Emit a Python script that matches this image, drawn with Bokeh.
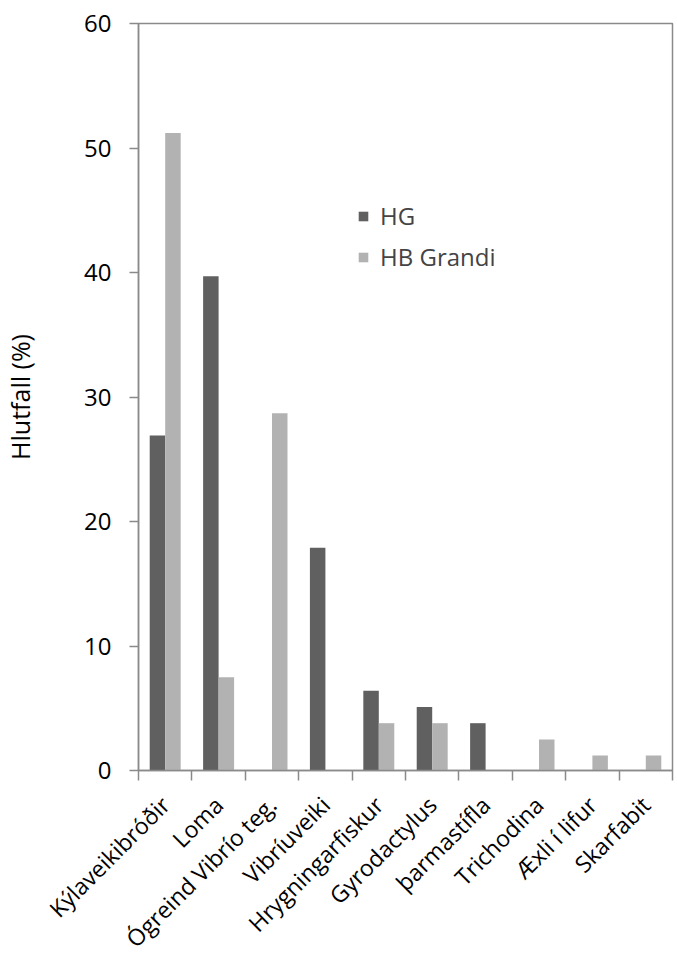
import math
from bokeh.plotting import figure
from bokeh.models import Range1d, FixedTicker, Legend, LegendItem, ColumnDataSource
from bokeh.embed import file_html
from bokeh.resources import INLINE

categories = ["Kýlaveikibróðir", "Loma", "Ógreind Vibrío teg.", "Vibríuveiki",
              "Hrygningarfiskur", "Gyrodactylus", "þarmastífla", "Trichodina",
              "Æxli í lifur", "Skarfabit"]
hg = [26.9, 39.7, 0, 17.9, 6.4, 5.1, 3.8, 0, 0, 0]
hb_grandi = [51.2, 7.5, 28.7, 0, 3.8, 3.8, 0, 2.5, 1.2, 1.2]
y_ticks = [0, 10, 20, 30, 40, 50, 60]
y_title = "Hlutfall (%)"

FONT = "Open Sans"
AX = "#8a8a8a"
C_HG = "#606060"
C_HB = "#b2b2b2"
BW = 0.29
FS = "24px"

idx = list(range(len(categories)))
src = ColumnDataSource(dict(
    x_hg=[i + 0.5 - BW / 2 for i in idx],
    x_hb=[i + 0.5 + BW / 2 for i in idx],
    hg=hg, hb=hb_grandi,
))

p = figure(width=677, height=968, output_backend="svg", toolbar_location=None,
           x_range=Range1d(0, len(categories)), y_range=Range1d(0, 60),
           min_border_left=138, min_border_right=5, min_border_top=23,
           min_border_bottom=197)

r_hg = p.vbar(x="x_hg", top="hg", width=BW, source=src, fill_color=C_HG, line_color=None)
r_hb = p.vbar(x="x_hb", top="hb", width=BW, source=src, fill_color=C_HB, line_color=None)

p.xgrid.visible = False
p.ygrid.visible = False
p.outline_line_color = AX
p.outline_line_width = 1.5

# y axis
p.yaxis.ticker = FixedTicker(ticks=y_ticks)
p.yaxis.axis_line_color = AX
p.yaxis.axis_line_width = 1.5
p.yaxis.major_tick_line_color = AX
p.yaxis.major_tick_line_width = 1.5
p.yaxis.major_tick_out = 9
p.yaxis.major_tick_in = 0
p.yaxis.minor_tick_line_color = None
p.yaxis.major_label_text_font = FONT
p.yaxis.major_label_text_font_size = FS
p.yaxis.major_label_text_color = "#000000"
p.yaxis.major_label_standoff = 18
p.yaxis.axis_label = y_title
p.yaxis.axis_label_text_font = FONT
p.yaxis.axis_label_text_font_size = "25px"
p.yaxis.axis_label_text_font_style = "normal"
p.yaxis.axis_label_text_color = "#000000"
p.yaxis.axis_label_standoff = 44

# x axis
p.xaxis.ticker = FixedTicker(ticks=[i + 0.5 for i in idx],
                             minor_ticks=list(range(len(categories) + 1)))
p.xaxis.major_label_overrides = {i + 0.5: c for i, c in zip(idx, categories)}
p.xaxis.major_label_orientation = math.pi / 4
p.xaxis.axis_line_color = AX
p.xaxis.axis_line_width = 1.5
p.xaxis.major_tick_line_color = None
p.xaxis.minor_tick_line_color = AX
p.xaxis.minor_tick_line_width = 1.5
p.xaxis.minor_tick_out = 10
p.xaxis.minor_tick_in = 0
p.xaxis.major_label_text_font = FONT
p.xaxis.major_label_text_font_size = "23px"
p.xaxis.major_label_text_color = "#000000"
p.xaxis.major_label_standoff = 20

legend = Legend(items=[LegendItem(label="HG", renderers=[r_hg]),
                       LegendItem(label="HB Grandi", renderers=[r_hb])],
                location=(219, 497), orientation="vertical",
                glyph_width=12, glyph_height=12, spacing=8, padding=0,
                label_text_font=FONT, label_text_font_size=FS,
                label_standoff=11, border_line_color=None,
                background_fill_alpha=0)
p.add_layout(legend)

open("out.html", "w").write(file_html(p, INLINE))
